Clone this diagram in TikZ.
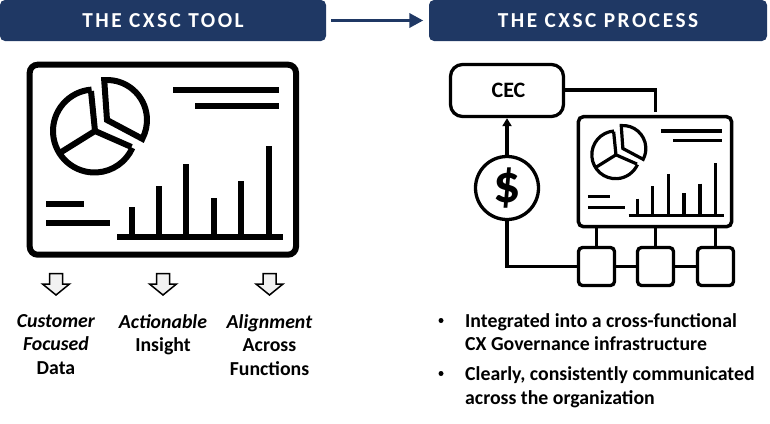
\documentclass[tikz,border=0pt]{standalone}
\usepackage{fontspec}
\setmainfont{Carlito}
\newfontfamily\hdfont[LetterSpace=12]{Carlito}
\usetikzlibrary{arrows.meta,calc}
\definecolor{navy}{HTML}{1F3864}
\definecolor{hollow}{HTML}{F2F2F2}
\tikzset{
  hdbar/.style={fill=navy,draw=none,rounded corners=5pt,inner sep=0pt,text=white,font=\hdfont\bfseries\fontsize{21.3}{24}\selectfont},
  lab/.style={align=center,inner sep=0pt,font=\bfseries\fontsize{19.8}{23.5}\selectfont,text=black},
  bul/.style={align=left,anchor=west,inner sep=0pt,font=\bfseries\fontsize{19.8}{23.5}\selectfont,text=black},
  dotb/.style={circle,fill=black,inner sep=0pt,minimum size=5pt},
  scrbig/.style={draw=black,line width=6pt,rounded corners=8pt,inner sep=0pt,minimum width=266.3pt,minimum height=190pt},
  scrsmall/.style={draw=black,line width=3.5pt,rounded corners=5pt,inner sep=0pt,minimum width=153.2pt,minimum height=110pt},
  flow/.style={draw=black,line width=3.3pt,inner sep=0pt},
  conn/.style={draw=black,line width=3.3pt},
  sbox/.style={flow,rounded corners=4pt,minimum width=36pt,minimum height=38pt},
  hollowarrow/.style={draw=black,line width=1.5pt,fill=hollow,line join=miter}
}
\newcommand{\dashcontent}[4]{%
  \begin{scope}[shift={(#1,#2)},x=#3pt,y=-#3pt,shift={(-29.7,-64.7)},line width=#4pt,line join=miter]
    \begin{scope}[yscale=-1]
      \draw (91,-91) -- (95,-131) -- (131.5,-147);
      \draw (95,-131) -- (60.5,-152.5);
      \draw (94.5,-131) ++(94:41.5) arc[start angle=94,end angle=-24+360,radius=41.5];
      \draw (107,-120) -- ++(94:40) arc[start angle=94,end angle=-28,radius=40] -- cycle;
    \end{scope}
    \draw (173,89.5) -- (279,89.5);
    \draw (195,105.5) -- (279,105.5);
    \draw (46,204) -- (84,204);
    \draw (46,222.5) -- (110,222.5);
    \draw (117,237) -- (283,237);
    \foreach \bx/\by in {132/207,159/186,186/164,213.5/198,241/181,268.5/146}
      \draw (\bx,\by) -- (\bx,237);
  \end{scope}}
\newcommand{\hollowdown}[1]{%
  \draw[hollowarrow] (#1-6.5,273.5) -- (#1+6.5,273.5) -- (#1+6.5,284) -- (#1+13.5,284) -- (#1,295) -- (#1-13.5,284) -- (#1-6.5,284) -- cycle;}
\begin{document}
\begin{tikzpicture}[x=1pt,y=-1pt]
  \useasboundingbox (0,0) rectangle (770,423);
  % headers
  \node[hdbar,minimum width=326pt,minimum height=41pt] (h1) at (163,20.5) {THE CXSC TOOL};
  \node[hdbar,minimum width=338pt,minimum height=41pt] (h2) at (598,20.5) {THE CXSC PROCESS};
  \draw[navy,line width=3.6pt,-{Triangle[length=14pt,width=14pt]},shorten <=5pt,shorten >=5.5pt] (h1.east) -- (h2.west);
  % big dashboard
  \node[scrbig] (bigscr) at (162.85,159.7) {};
  \dashcontent{29.7}{64.7}{1}{6}
  % hollow arrows
  \hollowdown{56}
  \hollowdown{163}
  \hollowdown{269.5}
  % labels
  \node[lab,anchor=north] (l1) at (56,314) {\textit{Customer}\\\textit{Focused}\\Data};
  \node[lab,anchor=north] (l2) at (163,314) {\textit{Actionable}\\Insight};
  \node[lab,anchor=north] (l3) at (269.5,314) {\textit{Alignment}\\Across\\Functions};
  % process
  \node[flow,rounded corners=12pt,minimum width=113pt,minimum height=52pt,font=\bfseries\fontsize{22}{24}\selectfont] (cec) at (507,90.5) {\hspace{3pt}\raisebox{-3.5pt}{CEC}};
  \node[flow,circle,minimum size=63pt,font=\bfseries\fontsize{54}{56}\selectfont] (dollar) at (507,188) {\raisebox{-2pt}{\$}};
  \node[scrsmall] (scr) at (655,171.7) {};
  \dashcontent{578.4}{116.7}{0.575}{3.2}
  \node[sbox] (b1) at (596.5,266.5) {};
  \node[sbox] (b2) at (655.5,266.5) {};
  \node[sbox] (b3) at (715.5,266.5) {};
  \coordinate (free) at (655.7,112);
  \draw[conn,-{Triangle[length=8pt,width=9pt]}] (dollar.north) -- (cec.south);
  \draw[conn] (dollar.south) |- (b1.west);
  \draw[conn] (b1.east) -- (b2.west);
  \draw[conn] (b2.east) -- (b3.west);
  \draw[conn] (cec.east |- 0,90) -- (free |- 0,90) -- (free);
  \draw[conn] (b1.north) -- (b1.north |- scr.south);
  \draw[conn] (b2.north) -- (b2.north |- scr.south);
  \draw[conn] (b3.north) -- (b3.north |- scr.south);
  % bullets
  \node[dotb] (d1) at (441,320.5) {};
  \node[bul] (t1) at (465,332) {Integrated into a cross-functional\\CX Governance infrastructure};
  \node[dotb] (d2) at (441,373.5) {};
  \node[bul] (t2) at (465,387) {Clearly, consistently communicated\\across the organization};
\end{tikzpicture}
\end{document}
